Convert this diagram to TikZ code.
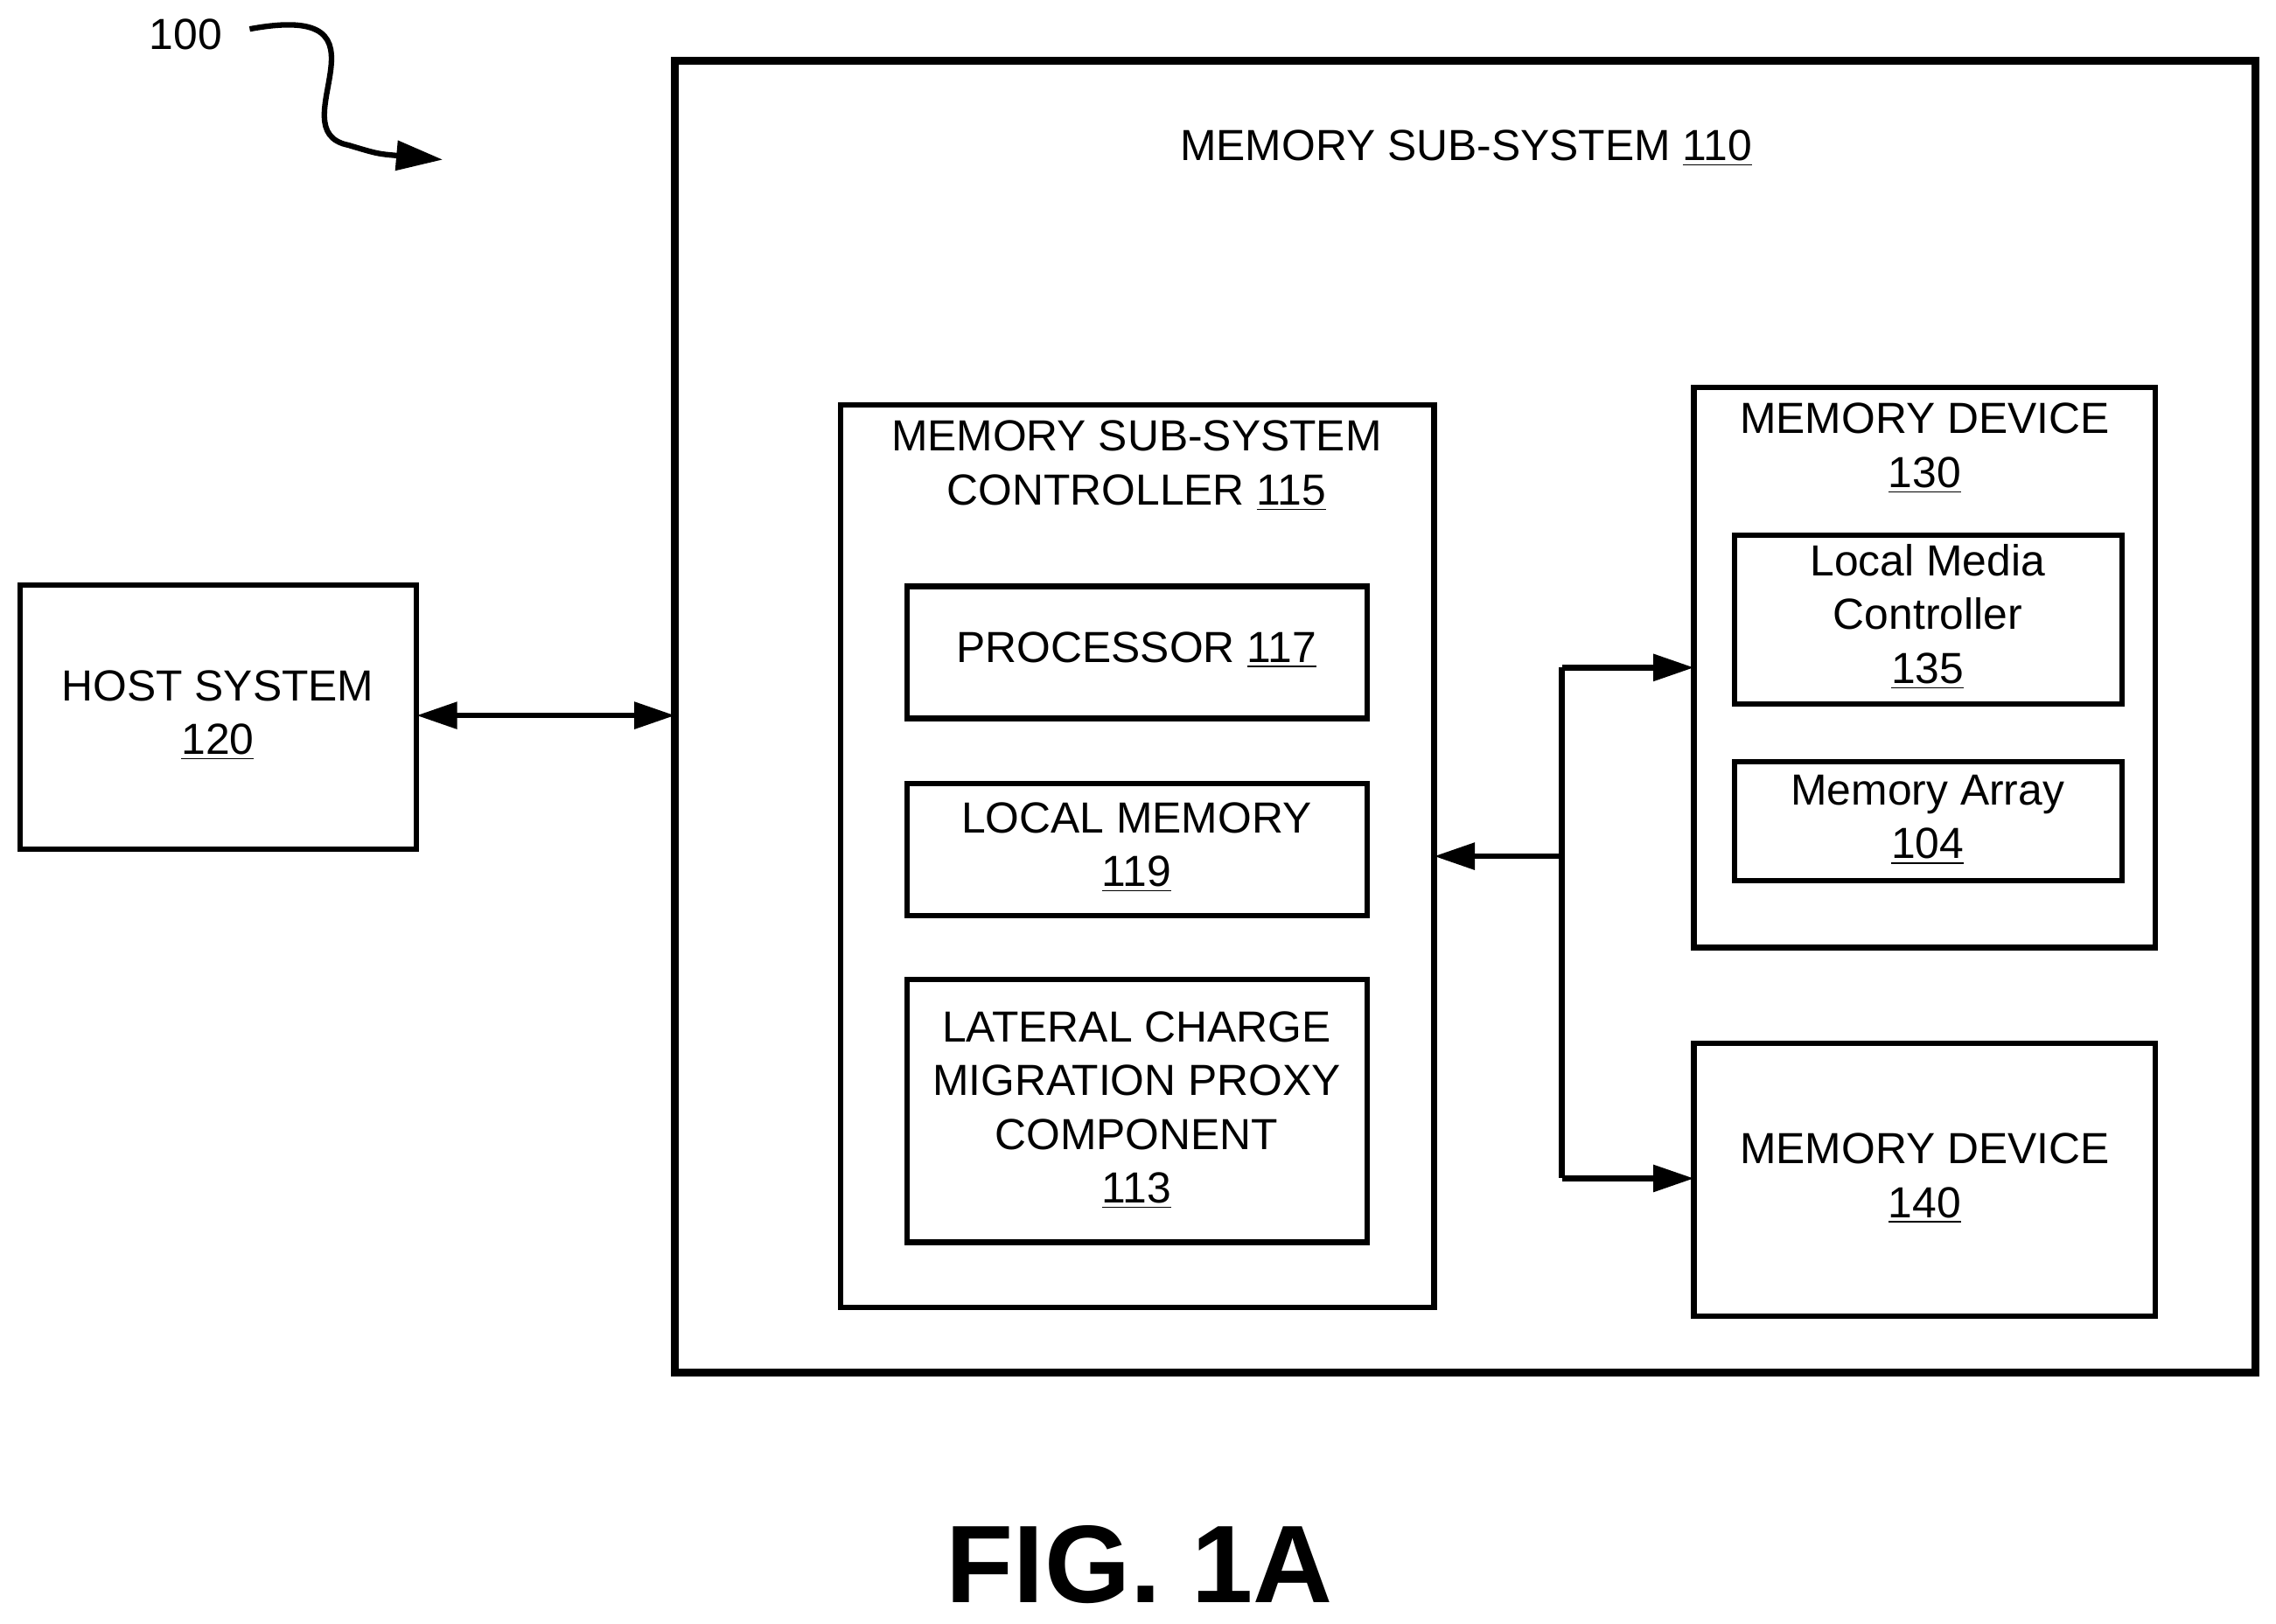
\documentclass[tikz,border=0pt]{standalone}
\usepackage{fontspec}
\setmainfont{Liberation Sans}
\usetikzlibrary{arrows.meta}
\begin{document}
\begin{tikzpicture}[x=0.5pt,y=-0.5pt,
 box/.style={draw,line width=1.9pt},
 t/.style={font=\fontsize{15}{18.5}\selectfont,align=center},
 arr/.style={line width=1.9pt,-{Triangle[length=14pt,width=9pt]}},
 darr/.style={line width=1.9pt,{Triangle[length=14pt,width=9pt]}-{Triangle[length=14pt,width=9pt]}}]
\useasboundingbox (0,0) rectangle (1568,1119);
\draw[box,line width=2.8pt] (465,42) rectangle (1554,946);
\node[t] (mss) at (1010,102) {MEMORY SUB-SYSTEM \underline{110}};
\draw[box] (14,403) rectangle (287,585);
\node[t] (host) at (150,493) {HOST SYSTEM\\\underline{120}};
\draw[box] (579,279) rectangle (988,901);
\node[t] (ctl) at (783,321) {MEMORY SUB-SYSTEM\\CONTROLLER \underline{115}};
\draw[box] (625,404) rectangle (942,495);
\node[t] (proc) at (783,448) {PROCESSOR \underline{117}};
\draw[box] (625,540) rectangle (942,631);
\node[t] (lm) at (783,584) {LOCAL MEMORY\\\underline{119}};
\draw[box] (625,675) rectangle (942,856);
\node[t] (lat) at (783,765) {LATERAL CHARGE\\MIGRATION PROXY\\COMPONENT\\\underline{113}};
\draw[box] (1167,267) rectangle (1485,653);
\node[t] (md1) at (1326,309) {MEMORY DEVICE\\\underline{130}};
\draw[box] (1195,369) rectangle (1462,485);
\node[t] (lmc) at (1328,425) {Local Media\\Controller\\\underline{135}};
\draw[box] (1195,525) rectangle (1462,607);
\node[t] (ma) at (1328,565) {Memory Array\\\underline{104}};
\draw[box] (1167,719) rectangle (1485,907);
\node[t] (md2) at (1326,812) {MEMORY DEVICE\\\underline{140}};
\coordinate (hR) at (287,493); \coordinate (oL) at (465,493);
\draw[darr] (hR) -- (oL);
\coordinate (cR) at (988,590); \coordinate (j) at (1076,590);
\coordinate (jt) at (1076,460); \coordinate (jb) at (1076,812);
\coordinate (d1) at (1167,460); \coordinate (d2) at (1167,812);
\draw[arr] (j) -- (cR);
\draw[line width=1.9pt] (jt) -- (jb);
\draw[arr] (jt) -- (d1);
\draw[arr] (jb) -- (d2);
\node[t] (n100) at (128,24) {100};
\coordinate (s0) at (172,20); \coordinate (s1) at (305,110);
\draw[line width=1.9pt,-{Triangle[length=16pt,width=10pt]}] (s0) .. controls (280,0) and (190,90) .. (240,100) .. controls (260,106) .. (s1);
\node[font=\bfseries\fontsize{38}{44}\selectfont] (fig) at (785,1078) {FIG. 1A};
\end{tikzpicture}
\end{document}
